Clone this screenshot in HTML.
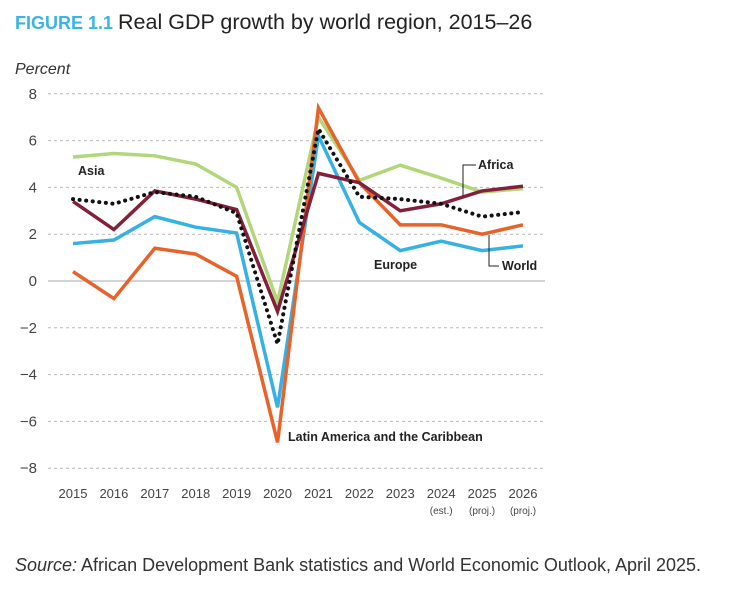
<!DOCTYPE html>
<html><head><meta charset="utf-8"><style>
body{margin:0;background:#fff;font-family:"Liberation Sans",sans-serif;}
</style></head><body>
<svg width="737" height="589" xmlns="http://www.w3.org/2000/svg">
<text x="15" y="29" font-size="18" font-weight="bold" fill="#3ab4e6">FIGURE 1.1 <tspan fill="#222" font-weight="normal" font-size="21.5">Real GDP growth by world region, 2015–26</tspan></text>
<text x="15" y="74" font-size="16" font-style="italic" fill="#333">Percent</text>
<g id="grid"></g><g id="lines"></g>
<g font-size="12.5" font-weight="bold" fill="#222">
<text x="78" y="175">Asia</text>
<text x="374" y="269">Europe</text>
<text x="288" y="441">Latin America and the Caribbean</text>
<text x="478" y="169">Africa</text>
<text x="502" y="270">World</text>
</g>
<path d="M476 165 H463 V196" fill="none" stroke="#222" stroke-width="1"/>
<path d="M499 266 H489 V235" fill="none" stroke="#222" stroke-width="1"/>
<text x="15" y="571" font-size="18" fill="#333"><tspan font-style="italic">Source:</tspan> African Development Bank statistics and World Economic Outlook, April 2025.</text>
</svg>
<script>
const years=["2015","2016","2017","2018","2019","2020","2021","2022","2023","2024","2025","2026"];
const subLabels=["","","","","","","","","","(est.)","(proj.)","(proj.)"];
const yTicks=[8,6,4,2,0,-2,-4,-6,-8];
const asia=[5.3,5.45,5.35,5.0,4.0,-0.9,7.0,4.3,4.95,4.4,3.8,3.95];
const africa=[3.4,2.2,3.85,3.5,3.05,-1.3,4.6,4.2,3.0,3.3,3.85,4.05];
const world=[3.5,3.3,3.8,3.6,2.9,-2.7,6.5,3.6,3.5,3.3,2.75,2.95];
const europe=[1.6,1.75,2.75,2.3,2.05,-5.4,6.2,2.5,1.3,1.7,1.3,1.5];
const latam=[0.4,-0.75,1.4,1.15,0.2,-6.9,7.4,4.2,2.4,2.4,2.0,2.4];
const NS="http://www.w3.org/2000/svg";
const xS=i=>73+i*(523-73)/11;
const yS=v=>281-v*23.4;
const grid=document.getElementById('grid'),lines=document.getElementById('lines');
yTicks.forEach(t=>{
 const l=document.createElementNS(NS,'line');
 l.setAttribute('x1',48);l.setAttribute('x2',545);l.setAttribute('y1',yS(t));l.setAttribute('y2',yS(t));
 l.setAttribute('stroke',t===0?'#aaa':'#bbb');l.setAttribute('stroke-width',1);
 if(t!==0)l.setAttribute('stroke-dasharray','3,3');
 
 
 grid.appendChild(l);
 const tx=document.createElementNS(NS,'text');
 tx.setAttribute('x',37);tx.setAttribute('y',yS(t)+5);tx.setAttribute('text-anchor','end');
 tx.setAttribute('font-size','15');tx.setAttribute('fill','#444');
 tx.textContent=t<0?'−'+(-t):String(t);
 
 
 grid.appendChild(tx);
});
years.forEach((y,i)=>{
 const tx=document.createElementNS(NS,'text');
 tx.setAttribute('x',xS(i));tx.setAttribute('y',498);tx.setAttribute('text-anchor','middle');
 tx.setAttribute('font-size','13');tx.setAttribute('fill','#444');tx.textContent=y;
 
 
 grid.appendChild(tx);
 if(subLabels[i]){
  const s=document.createElementNS(NS,'text');
  s.setAttribute('x',xS(i));s.setAttribute('y',514);s.setAttribute('text-anchor','middle');
  s.setAttribute('font-size','10');s.setAttribute('fill','#444');s.textContent=subLabels[i];
  
  
  grid.appendChild(s);
 }
});
function draw(vals,color,name,dash){
 const p=document.createElementNS(NS,'polyline');
 p.setAttribute('points',vals.map((v,i)=>xS(i)+','+yS(v)).join(' '));
 p.setAttribute('fill','none');p.setAttribute('stroke',color);
 p.setAttribute('stroke-width',dash?4:3.5);p.setAttribute('stroke-linejoin','miter');
 if(dash){p.setAttribute('stroke-dasharray','0.1,6.5');p.setAttribute('stroke-linecap','round');}
 
 
 lines.appendChild(p);
}
draw(asia,'#b2d67a','asia-line');
draw(europe,'#35b1e4','europe-line');
draw(latam,'#e8632a','latam-line');
draw(africa,'#84213a','africa-line');
draw(world,'#111','world-line',true);
</script>
</body></html>
